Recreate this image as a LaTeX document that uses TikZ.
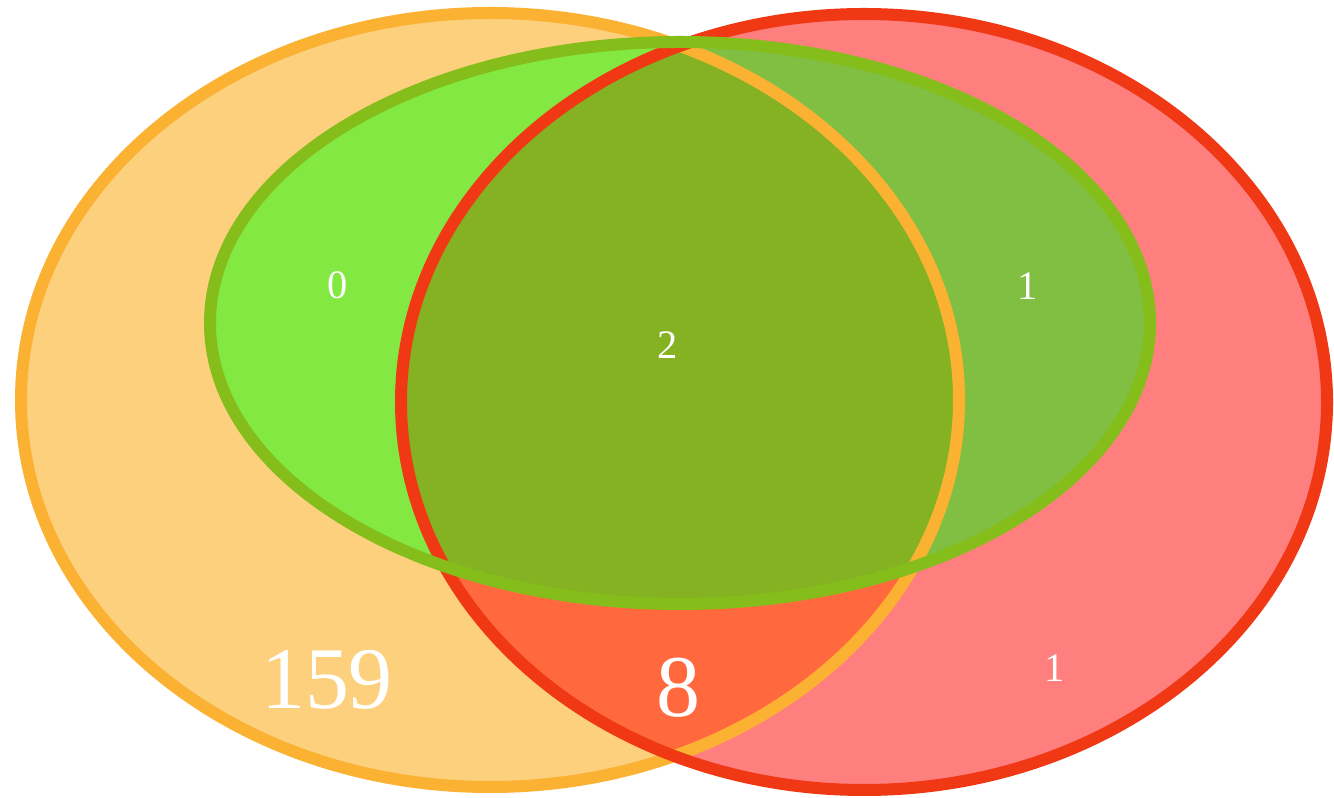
\documentclass[tikz,border=0pt]{standalone}
\usepackage{fontspec}
\setmainfont{Liberation Serif}
\definecolor{orangefill}{HTML}{FDD07E}
\definecolor{orangeline}{HTML}{FBB132}
\definecolor{redfill}{HTML}{FF7F7F}
\definecolor{redline}{HTML}{F03814}
\definecolor{greenline}{HTML}{85BE1A}
\definecolor{greenorange}{HTML}{84E842}
\definecolor{greenred}{HTML}{80BF42}
\definecolor{orangered}{HTML}{FF693D}
\definecolor{allthree}{HTML}{85B222}
\tikzset{
	setline/.style={line width=12*0.01cm},
	count/.style={text=white, font=\fontsize{11.5}{12}\selectfont, inner sep=0pt},
	bigcount/.style={count, font=\fontsize{25}{26}\selectfont}
}
\def\orangeset{(490,400) ellipse [x radius=469, y radius=387]}
\def\redset{(864,402) ellipse [x radius=463, y radius=388]}
\def\greenset{(680,323) ellipse [x radius=470, y radius=281]}

\begin{document}
\begin{tikzpicture}[x=0.01cm, y=-0.01cm]
	\useasboundingbox (0,0) rectangle (1334,798);
	% region fills
	\fill[orangefill] \orangeset;
	\fill[redfill] \redset;
	\begin{scope}
		\clip \orangeset;
		\fill[orangered] \redset;
	\end{scope}
	\begin{scope}
		\clip \greenset;
		\fill[greenorange] \orangeset;
		\fill[greenred] \redset;
		\clip \orangeset;
		\fill[allthree] \redset;
	\end{scope}
	% outlines
	\draw[setline, orangeline] \orangeset;
	\draw[setline, redline] \redset;
	\draw[setline, greenline] \greenset;
	% counts
	\node[count] (onlygreen) at (338,285) {0};
	\node[count] (center) at (668,345) {2};
	\node[count] (greenred) at (1028,286) {1};
	\node[count] (onlyred) at (1055,668) {1};
	\node[bigcount] (onlyorange) at (327,680) {159};
	\node[bigcount] (orangered) at (678,688) {8};
\end{tikzpicture}
\end{document}
